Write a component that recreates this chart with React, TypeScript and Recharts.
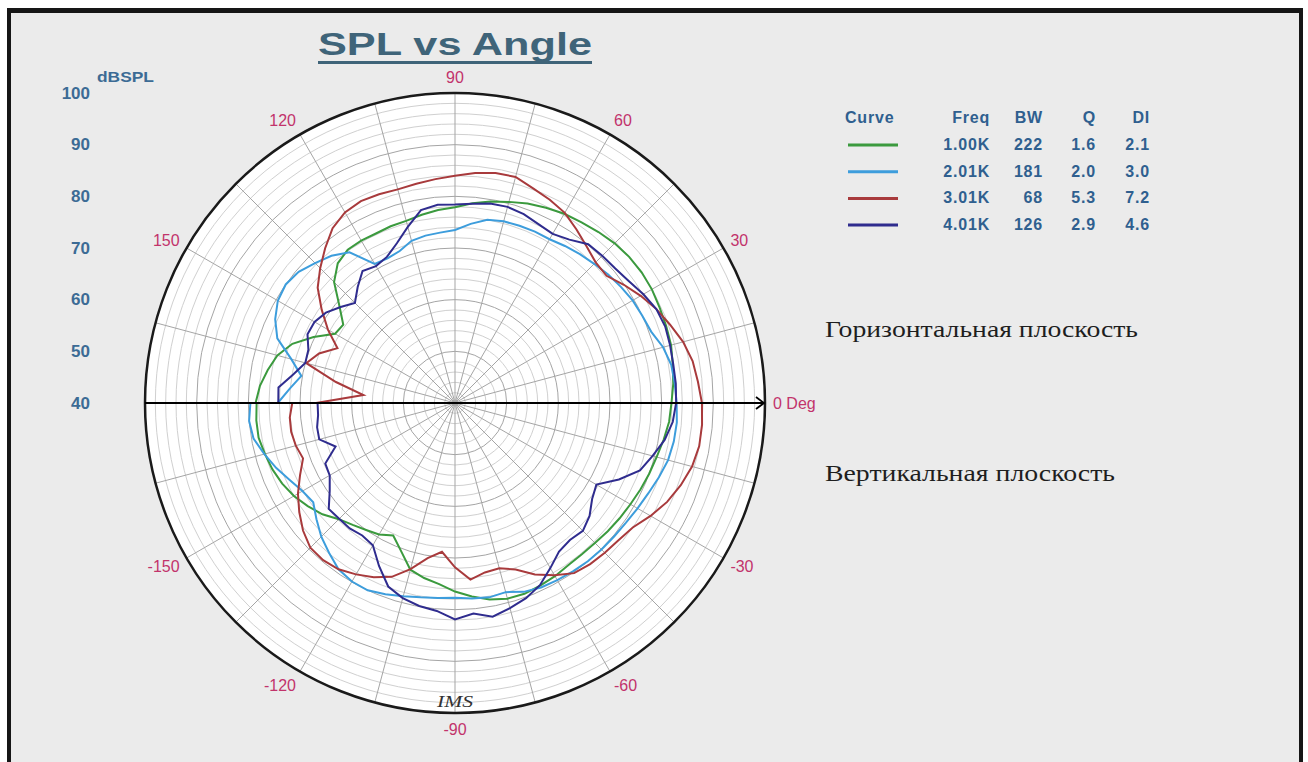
import React from "react";
import {
  RadarChart,
  Radar,
  PolarGrid,
  PolarAngleAxis,
  PolarRadiusAxis,
  Legend,
} from "recharts";

// angle categories, clockwise from the left side (upper branch) round to -180 (lower branch)
const angles = [
  180, 175, 170, 165, 160, 155, 150, 145, 140, 135, 130, 125, 120, 115, 110, 105, 100, 95, 90, 85,
  80, 75, 70, 65, 60, 55, 50, 45, 40, 35, 30, 25, 20, 15, 10, 5, 0, -5, -10, -15,
  -20, -25, -30, -35, -40, -45, -50, -55, -60, -65, -70, -75, -80, -85, -90, -95, -100, -105, -110, -115,
  -120, -125, -130, -135, -140, -145, -150, -155, -160, -165, -170, -175, -180,
];

// dBSPL per angle
const spl1k = [
  78.6, 77.9, 76.8, 75.6, 73.5, 70.2, 66.8, 66.4, 69.2, 73.1,
  75.3, 76.2, 76.3, 76.2, 76.4, 76.5, 77.0, 77.5, 77.9, 78.8,
  79.6, 80.3, 81.1, 81.7, 82.3, 82.7, 83.2, 83.7, 84.0, 84.1,
  84.0, 83.7, 83.5, 83.3, 82.8, 82.4, 81.9, 81.6, 81.0, 80.4,
  80.0, 79.6, 79.2, 78.9, 78.6, 78.3, 78.2, 78.3, 78.7, 79.0,
  79.3, 79.2, 78.6, 77.6, 76.5, 75.2, 74.4, 73.4, 70.5, 68.3,
  69.4, 70.0, 70.8, 71.8, 73.5, 74.8, 76.0, 76.9, 77.6, 78.1,
  78.6, 78.6, 78.4,
];
const spl2k = [
  74.3, 72.1, 70.2, 72.8, 76.6, 78.4, 79.6, 80.0, 79.5, 78.3,
  77.2, 75.6, 71.1, 70.9, 71.3, 72.5, 72.9, 73.1, 73.5, 74.8,
  76.0, 76.4, 76.5, 76.6, 76.6, 77.1, 77.6, 78.1, 78.7, 79.2,
  79.7, 80.0, 80.4, 81.7, 82.5, 82.7, 82.9, 83.1, 83.0, 82.7,
  82.0, 81.3, 80.8, 80.4, 80.2, 80.1, 80.0, 79.8, 79.6, 79.4,
  78.9, 77.9, 78.2, 78.0, 77.7, 77.9, 78.2, 78.7, 79.4, 80.0,
  79.9, 79.3, 77.9, 76.6, 75.0, 73.5, 74.1, 75.3, 76.8, 78.2,
  79.6, 80.0, 79.6,
];
const spl3k = [
  66.9, 57.8, 63.4, 69.8, 68.0, 65.1, 68.4, 71.5, 74.7, 76.9,
  79.1, 81.3, 82.6, 83.1, 83.0, 82.8, 83.1, 83.5, 84.0, 84.7,
  85.2, 85.3, 84.2, 83.4, 82.5, 81.0, 79.6, 78.5, 78.3, 79.9,
  81.5, 83.0, 84.3, 85.7, 86.7, 87.2, 87.8, 88.0, 88.0, 87.5,
  86.5, 85.3, 83.7, 82.0, 81.3, 81.0, 80.7, 80.2, 78.5, 76.6,
  74.3, 73.1, 73.3, 74.3, 71.8, 68.9, 70.5, 73.3, 75.8, 77.2,
  78.3, 79.3, 79.7, 79.6, 78.4, 76.8, 75.1, 73.1, 71.3, 71.9,
  72.2, 72.1, 71.5,
];
const spl4k = [
  74.2, 74.3, 71.8, 70.0, 70.2, 71.5, 71.4, 70.5, 68.9, 67.4,
  69.3, 71.2, 70.6, 71.2, 72.9, 75.3, 77.9, 78.5, 78.4, 78.7,
  79.2, 79.3, 78.9, 78.2, 77.8, 78.6, 80.1, 80.3, 80.5, 81.1,
  82.1, 83.0, 83.3, 83.1, 82.9, 82.9, 82.8, 82.3, 81.2, 79.6,
  78.1, 75.0, 71.6, 72.4, 74.0, 75.0, 74.6, 75.1, 76.9, 78.9,
  80.2, 81.1, 82.0, 80.9, 81.9, 80.4, 79.9, 79.1, 77.8, 74.8,
  71.8, 71.3, 71.7, 71.7, 71.9, 69.6, 68.0, 67.7, 64.6, 67.2,
  67.1, 66.6, 66.6,
];

// legend table
const freqLabels = ["1.00K", "2.01K", "3.01K", "4.01K"];
const bwValues = [222, 181, 68, 126];
const qValues = [1.6, 2.0, 5.3, 2.9];
const diValues = [2.1, 3.0, 7.2, 4.6];

const data = angles.map((angle, i) => ({
  angle,
  c1: spl1k[i],
  c2: spl2k[i],
  c3: spl3k[i],
  c4: spl4k[i],
}));

const COLORS = ["#3b9a3e", "#3d9ddc", "#a83a3c", "#2f2c8e"];
const KEYS = ["c1", "c2", "c3", "c4"];

const CX = 455;
const CY = 403;
const R = 310;
const DB_MIN = 40;
const DB_MAX = 100;

const SANS = '"Liberation Sans", Arial, sans-serif';
const SERIF = '"Liberation Serif", "Times New Roman", serif';
const AXIS_BLUE = "#3c6b95";
const ANGLE_RED = "#c2336b";
const TABLE_BLUE = "#2f5f8f";

const radiusOf = (db: number) => ((db - DB_MIN) / (DB_MAX - DB_MIN)) * R;
const gridDb: number[] = [];
for (let db = DB_MIN + 2; db < DB_MAX; db += 2) gridDb.push(db);
const minorRadii = gridDb.filter((d) => d % 10 !== 0).map(radiusOf);
const majorRadii = gridDb.filter((d) => d % 10 === 0).map(radiusOf);
const spokeAngles: number[] = [];
for (let a = 0; a < 360; a += 15) spokeAngles.push(a);

function renderAngleTick(props: any) {
  const { x, y, textAnchor, payload } = props;
  const v = Number(payload.value);
  if (v % 30 !== 0 || v === 180) return <g />;
  const label = v === 0 ? "0 Deg" : String(v);
  const rad = (payload.coordinate * Math.PI) / 180;
  const dy = -Math.sin(rad) * 8;
  return (
    <text
      x={x}
      y={y + dy}
      textAnchor={textAnchor}
      dominantBaseline="central"
      fontFamily={SANS}
      fontSize={16}
      fill={ANGLE_RED}
    >
      {label}
    </text>
  );
}

function renderDbTick(props: any, skipCenter: boolean) {
  const { y, payload } = props;
  if (skipCenter && payload.value === DB_MIN) return <g />;
  return (
    <text
      x={90}
      y={y}
      textAnchor="end"
      dominantBaseline="central"
      fontFamily={SANS}
      fontWeight="bold"
      fontSize={17}
      fill={AXIS_BLUE}
    >
      {payload.value}
    </text>
  );
}

function CurveTable() {
  const rowY = (i: number) => 50 + i * 26.7;
  return (
    <svg width={330} height={140} style={{ display: "block" }}>
      <g fontFamily={SANS} fontWeight="bold" fontSize={16} fill={TABLE_BLUE} letterSpacing={0.8}>
        <text x={10} y={23}>Curve</text>
        <text x={155} y={23} textAnchor="end">Freq</text>
        <text x={208} y={23} textAnchor="end">BW</text>
        <text x={261} y={23} textAnchor="end">Q</text>
        <text x={315} y={23} textAnchor="end">DI</text>
        {freqLabels.map((f, i) => (
          <g key={f}>
            <line x1={13} x2={63} y1={rowY(i) - 5} y2={rowY(i) - 5} stroke={COLORS[i]} strokeWidth={3} />
            <text x={155} y={rowY(i)} textAnchor="end">{f}</text>
            <text x={208} y={rowY(i)} textAnchor="end">{bwValues[i]}</text>
            <text x={261} y={rowY(i)} textAnchor="end">{qValues[i].toFixed(1)}</text>
            <text x={315} y={rowY(i)} textAnchor="end">{diValues[i].toFixed(1)}</text>
          </g>
        ))}
      </g>
    </svg>
  );
}

export default function App() {
  const tipX = CX + R - 1;
  return (
    <div
      style={{
        position: "absolute",
        left: 0,
        top: 0,
        width: 1308,
        height: 762,
        overflow: "hidden",
        background: "#ffffff",
      }}
    >
      <div
        style={{
          position: "absolute",
          left: 7,
          top: 8,
          width: 1296,
          height: 800,
          boxSizing: "border-box",
          border: "4px solid #161616",
          borderTopWidth: 5,
          background: "#ebebeb",
        }}
      />
      <div
        style={{
          position: "absolute",
          left: CX - R,
          top: CY - R,
          width: 2 * R,
          height: 2 * R,
          borderRadius: "50%",
          background: "#ffffff",
        }}
      />
      <div style={{ position: "absolute", left: 0, top: 0 }}>
        <RadarChart
          width={1308}
          height={762}
          data={data}
          cx={CX}
          cy={CY}
          innerRadius={0}
          outerRadius={R}
          startAngle={180}
          endAngle={-185}
          margin={{ top: 0, right: 0, bottom: 0, left: 0 }}
        >
          <PolarGrid
            gridType="circle"
            polarAngles={[]}
            polarRadius={minorRadii}
            radialLines={false}
            stroke="#d0d0d0"
          />
          <PolarGrid
            gridType="circle"
            polarAngles={spokeAngles}
            polarRadius={majorRadii}
            stroke="#a5a5a5"
          />
          <PolarRadiusAxis
            angle={90}
            domain={[DB_MIN, DB_MAX]}
            tickCount={7}
            axisLine={false}
            tick={(p: any) => renderDbTick(p, false)}
          />
          <PolarRadiusAxis
            radiusAxisId="lower"
            angle={-90}
            domain={[DB_MIN, DB_MAX]}
            tickCount={7}
            axisLine={false}
            tick={(p: any) => renderDbTick(p, true)}
          />
          {KEYS.map((k, i) => (
            <Radar
              key={k}
              dataKey={k}
              name={freqLabels[i]}
              stroke={COLORS[i]}
              strokeWidth={2}
              fill="none"
              fillOpacity={0}
              dot={false}
              isAnimationActive={false}
            />
          ))}
          <PolarAngleAxis
            dataKey="angle"
            axisLineType="circle"
            axisLine={{ stroke: "#1a1a1a", strokeWidth: 2.5 }}
            tickLine={false}
            tickSize={8}
            tick={renderAngleTick}
          />
          <Legend
            content={() => <CurveTable />}
            wrapperStyle={{ position: "absolute", left: 835, top: 100, bottom: "auto", width: 330, height: 140 }}
          />
        </RadarChart>
      </div>
      <svg
        width={1308}
        height={762}
        style={{ position: "absolute", left: 0, top: 0, pointerEvents: "none" }}
      >
        <text
          x={455}
          y={55}
          textAnchor="middle"
          fontFamily={SANS}
          fontWeight="bold"
          fontSize={32}
          fill="#3f6479"
          textLength={274}
          lengthAdjust="spacingAndGlyphs"
        >
          SPL vs Angle
        </text>
        <line x1={318} x2={592} y1={62.5} y2={62.5} stroke="#3f6479" strokeWidth={3} />
        <text
          x={97}
          y={82}
          fontFamily={SANS}
          fontWeight="bold"
          fontSize={15}
          fill={AXIS_BLUE}
          textLength={57}
          lengthAdjust="spacingAndGlyphs"
        >
          dBSPL
        </text>
        <line x1={CX - R} x2={tipX} y1={CY} y2={CY} stroke="#000" strokeWidth={2} />
        <polyline
          points={`${tipX - 8},${CY - 6} ${tipX},${CY} ${tipX - 8},${CY + 6}`}
          fill="none"
          stroke="#000"
          strokeWidth={1.8}
        />
        <text
          x={825}
          y={337}
          fontFamily={SERIF}
          fontSize={24}
          fill="#1e1e1e"
          textLength={313}
          lengthAdjust="spacingAndGlyphs"
        >
          Горизонтальная плоскость
        </text>
        <text
          x={825}
          y={481}
          fontFamily={SERIF}
          fontSize={24}
          fill="#1e1e1e"
          textLength={290}
          lengthAdjust="spacingAndGlyphs"
        >
          Вертикальная плоскость
        </text>
        <text
          x={455}
          y={707}
          textAnchor="middle"
          fontFamily={SERIF}
          fontStyle="italic"
          fontSize={16}
          fill="#333"
          textLength={36}
          lengthAdjust="spacingAndGlyphs"
        >
          IMS
        </text>
      </svg>
    </div>
  );
}
